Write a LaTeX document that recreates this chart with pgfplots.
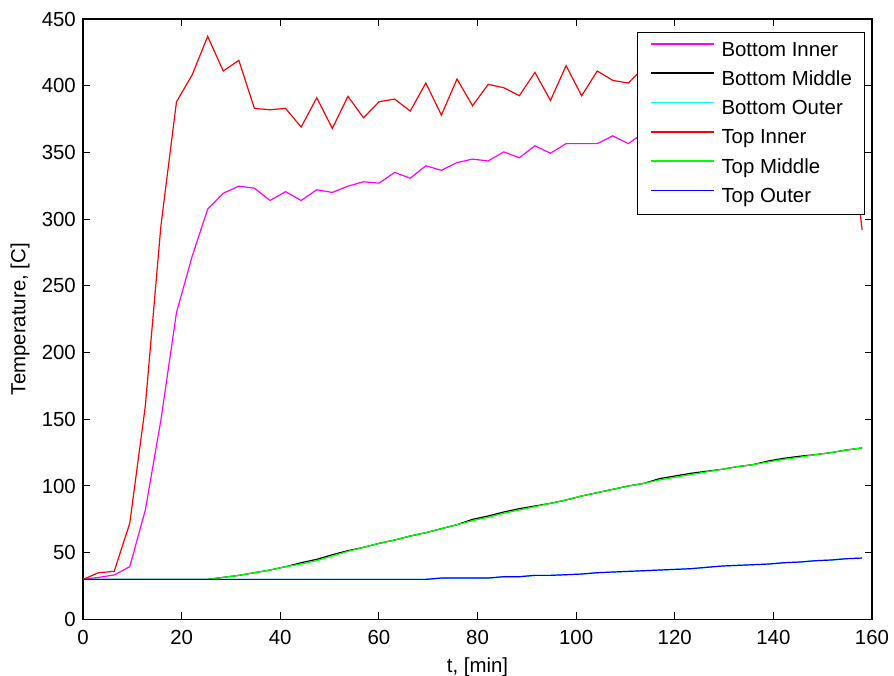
\documentclass[border=0pt]{standalone}
\usepackage{fontspec}
\setmainfont{Liberation Sans}
\usepackage{pgfplots}
\usepackage{pgfplotstable}
\pgfplotsset{compat=1.18}

% Line colours (pure RGB)
\definecolor{cMag}{rgb}{1,0,1}
\definecolor{cBlk}{rgb}{0,0,0}
\definecolor{cCya}{rgb}{0,1,1}
\definecolor{cRed}{rgb}{1,0,0}
\definecolor{cGrn}{rgb}{0,1,0}
\definecolor{cBlu}{rgb}{0,0,1}

% Thermocouple readings: time [min], bottom/top inner, middle, outer [C]
\pgfplotstableread{
t      BI     BM     BO    TI     TM     TO
0.00   30     30     30    30     30     30
3.16   31.5   30     30    35     30     30
6.32   33.3   30     30    36     30     30
9.48   39.5   30     30    72     30     30
12.64  82     30     30    160    30     30
15.80  149.5  30     30    295    30     30
18.96  230    30     30    388    30     30
22.12  272    30     30    408    30     30
25.28  307.5  30     30    437    30     30
28.44  319.4  31.5   30    411    31.5   30
31.60  324.7  33     30    419    33     30
34.76  323.2  35     30    383    35     30
37.92  314    37     30    382    37     30
41.08  320.6  39.5   30    383    39.5   30
44.24  314    42.5   30    369    41.5   30
47.40  322    45     30    391    44     30
50.56  320    48.5   30    368    47.5   30
53.72  324.7  51.5   30    392    51     30
56.88  328    54     30    376    54     30
60.04  327    57     30    388    57     30
63.20  335    59.5   30    390    59.5   30
66.36  330.7  62.5   30    381    62.5   30
69.52  340    65     30    402    65     30
72.68  336.6  68     31    378    68     31
75.84  342.4  71     31    405    71     31
79.00  345    75     31    385    74     31
82.16  343.6  77.5   31    401    76.5   31
85.32  350.4  80.5   32    398.5  79.5   32
88.48  346    83     32    392.5  82     32
91.64  355    85     33    410    84.5   33
94.80  349.4  87     33    389    87     33
97.96  356.6  89.5   33.5  415    89.5   33.5
101.12 356.6  92.5   34    392.5  92.5   34
104.28 356.6  95     35    411    95     35
107.44 362.4  97.5   35.5  404    97.5   35.5
110.60 356.6  100    36    402    100    36
113.76 365    102    36.5  414    102    36.5
116.92 360    105.5  37    398    104.5  37
120.08 366    107.5  37.5  418    106.5  37.5
123.24 362    109.5  38    400    108.5  38
126.40 368    111    39    412    110.5  39
129.56 364    112.5  40    405    112.5  40
132.72 370    114.5  40.5  420    114.5  40.5
135.88 366    116    41    401    116    41
139.04 371    118.8  41.5  415    118    41.5
142.20 368    120.8  42.5  408    120    42.5
145.36 373    122.3  43    422    121.5  43
148.52 369    123.5  44    404    123.5  44
151.68 374    125    44.5  416    125    44.5
154.84 372    127    45.5  390    127    45.5
158.00 372    128.5  46    292    128.5  46
}\temps

\begin{document}
\fontsize{10.2}{12}\selectfont
\begin{tikzpicture}
\path[use as bounding box] (-41.5pt,-27.8pt) rectangle (405.5pt,309.7pt);
\begin{axis}[
  at={(0,0)}, anchor=south west, scale only axis,
  width=394.5pt, height=300.2pt,
  xmin=0, xmax=160, ymin=0, ymax=450,
  xtick={0,20,...,160}, ytick={0,50,...,450},
  tick align=inside, tick pos=both, major tick length=3.5pt,
  axis line style={line width=0.7pt},
  every tick/.style={black, line width=0.5pt},
  /pgf/number format/assume math mode=true,
  ticklabel style={font=\fontsize{10.2}{12}\selectfont},
  xticklabel style={yshift=-1.9pt},
  xlabel={t, [min]}, ylabel={Temperature, [C]},
  every axis x label/.style={at={(axis description cs:0.5,-0.08)},anchor=center},
  every axis y label/.style={at={(axis description cs:-0.0798,0.5)},rotate=90,anchor=center},
  legend style={at={(0.991,0.979)}, anchor=north east, draw=black,
    fill=white, inner xsep=6.3pt, inner ysep=4.4pt,
    nodes={inner sep=0pt, text height=7.6pt, text depth=1.5pt},
    /tikz/row sep=5.55pt,
    font=\fontsize{10.2}{12}\selectfont},
  legend cell align=left,
  legend image code/.code={%
    \draw[#1, line width=0.9pt] (0pt,3pt) -- (31.3pt,3pt);
    \path (35pt,3pt);},
  every axis plot/.append style={line width=0.6pt, no markers},
]
\addplot[color=cMag] table[x=t, y=BI] {\temps};
\addplot[color=cBlk] table[x=t, y=BM] {\temps};
\addplot[color=cCya] table[x=t, y=BO] {\temps};
\addplot[color=cRed] table[x=t, y=TI] {\temps};
\addplot[color=cGrn] table[x=t, y=TM] {\temps};
\addplot[color=cBlu] table[x=t, y=TO] {\temps};
\legend{Bottom Inner, Bottom Middle, Bottom Outer, Top Inner, Top Middle, Top Outer}
\end{axis}
\end{tikzpicture}
\end{document}
